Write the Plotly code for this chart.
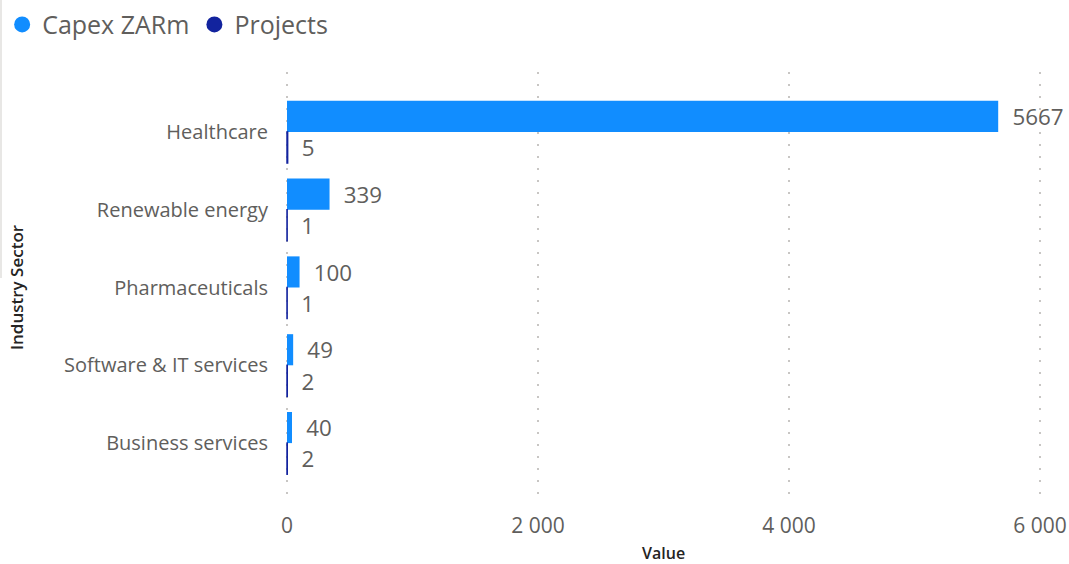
import plotly.graph_objects as go

# Sector investment summary
sectors = ["Healthcare", "Renewable energy", "Pharmaceuticals",
           "Software & IT services", "Business services"]
capex_zarm = [5667, 339, 100, 49, 40]
projects = [5, 1, 1, 2, 2]
x_ticks = [0, 2000, 4000, 6000]
x_tick_labels = ["0", "2 000", "4 000", "6 000"]

CAPEX_COLOR = "#118DFF"
PROJ_COLOR = "#12239E"
LABEL_GRAY = "#605E5C"
TITLE_COLOR = "#252423"
FONT = "Open Sans, Noto Sans, sans-serif"
PAD = "\u2002"

W, H = 1069, 564
ML, MR, MT, MB = 285, 27, 72, 61
plot_w = W - ML - MR
plot_h = H - MT - MB

fig = go.Figure()

fig.add_trace(go.Bar(
    y=sectors, x=capex_zarm, orientation="h", name="Capex ZARm",
    marker=dict(color=CAPEX_COLOR, line=dict(width=0)),
    text=[PAD + str(v) for v in capex_zarm], textposition="outside",
    textfont=dict(size=23, color=LABEL_GRAY, family=FONT),
    cliponaxis=False, showlegend=False,
))
fig.add_trace(go.Bar(
    y=sectors, x=projects, orientation="h", name="Projects",
    marker=dict(color=PROJ_COLOR, line=dict(width=1.5, color=PROJ_COLOR)),
    text=[PAD + str(v) for v in projects], textposition="outside",
    textfont=dict(size=23, color=LABEL_GRAY, family=FONT),
    cliponaxis=False, showlegend=False,
))

# Legend entries with round markers
for name, color in [("Capex ZARm", CAPEX_COLOR), ("Projects", PROJ_COLOR)]:
    fig.add_trace(go.Scatter(
        x=[None], y=[None], mode="markers", name=name,
        marker=dict(symbol="circle", size=21, color=color),
        showlegend=True,
    ))

fig.update_layout(
    width=W, height=H,
    margin=dict(l=ML, r=MR, t=MT, b=MB, autoexpand=False),
    paper_bgcolor="white", plot_bgcolor="white",
    barmode="group", bargap=0.2, bargroupgap=0,
    font=dict(family=FONT, color=LABEL_GRAY),
    legend=dict(
        orientation="h", x=0.002, y=0.997, xref="container", yref="container",
        xanchor="left", yanchor="top",
        font=dict(size=25, color=LABEL_GRAY, family=FONT),
        itemwidth=30, tracegroupgap=0, traceorder="normal",
    ),
    xaxis=dict(
        range=[-16, 6016], tickvals=x_ticks, ticktext=x_tick_labels,
        showgrid=True, gridcolor="#C8C6C4", griddash="2px,10px", gridwidth=1.5,
        zeroline=False, showline=False, automargin=False,
        ticks="outside", ticklen=4, tickcolor="rgba(0,0,0,0)",
        tickfont=dict(size=21, color=LABEL_GRAY, family=FONT),
    ),
    yaxis=dict(
        categoryorder="array", categoryarray=sectors,
        range=[4.77, -0.77], showgrid=False, zeroline=False, showline=False,
        ticklabelstandoff=16, automargin=False,
        tickfont=dict(size=20, color=LABEL_GRAY, family=FONT),
        title=dict(text="Industry Sector", standoff=36,
                   font=dict(size=17, color=TITLE_COLOR, family=FONT, weight=600)),
    ),
    annotations=[dict(
        text="Value", xref="paper", yref="paper", x=0.5, y=0,
        xanchor="center", yanchor="middle", yshift=-50, showarrow=False,
        borderpad=0,
        font=dict(size=16, color=TITLE_COLOR, family=FONT, weight=600),
    )],
    shapes=[dict(
        type="line", xref="paper", yref="paper",
        x0=(1 - ML) / plot_w, x1=(1 - ML) / plot_w,
        y0=(H - MB - 278) / plot_h, y1=(H - MB) / plot_h,
        line=dict(color="#E1DFDD", width=1.5), layer="above",
    )],
)

fig.write_html("out.html")
